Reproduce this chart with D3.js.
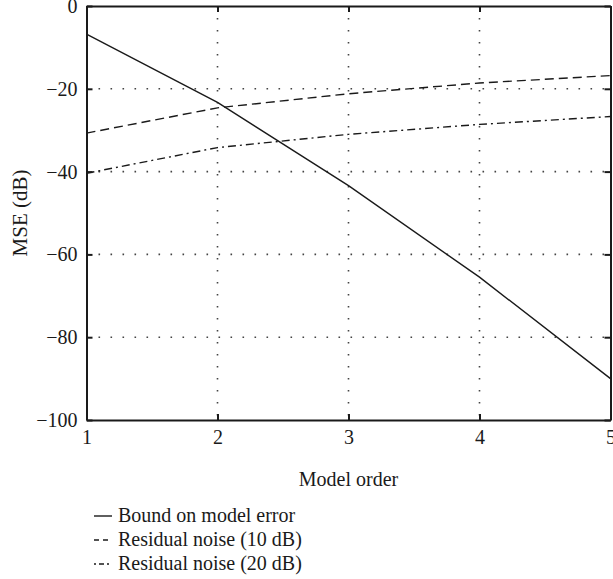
<!DOCTYPE html>
<html lang="en">
  <head>
    <meta charset="UTF-8" />
    <title>MSE vs model order</title>
    <script src="https://cdn.jsdelivr.net/npm/d3@7"></script>
    <style>
      body { margin: 0; background: #fff; }
      svg { display: block; font-family: "Liberation Serif", "DejaVu Serif", serif; }
      .axis path, .axis line { stroke: #1a1a1a; }
      .axis text { font-size: 20px; fill: #1a1a1a; font-family: "Liberation Serif", serif; }
    </style>
  </head>
  <body>
    <svg id="chart" width="613" height="579"></svg>
    <script>
      // data
      var orders = [1, 2, 3, 4, 5];
      var boundModelError = [-6.8, -23.3, -43.4, -65.5, -90.0];
      var residual10 = [-30.7, -24.6, -21.2, -18.6, -16.8];
      var residual20 = [-40.4, -34.2, -31.0, -28.6, -26.7];
      var xTicks = [1, 2, 3, 4, 5];
      var yTicks = [0, -20, -40, -60, -80, -100];
      var legendLabels = ["Bound on model error", "Residual noise (10 dB)", "Residual noise (20 dB)"];

      var margin = {top: 6, left: 86.5},
          width = 524,
          height = 414;

      var svg = d3.select("#chart");
      var g = svg.append("g")
        .attr("transform", "translate(" + margin.left + "," + margin.top + ")");

      var xScale = d3.scaleLinear().domain([1, 5]).range([0, width]);
      var yScale = d3.scaleLinear().domain([-100, 0]).range([height, 0]);

      // dotted grid
      g.selectAll(".vgrid")
        .data(xTicks.slice(1, -1))
        .enter()
        .append("line")
        .attr("x1", function(d) { return xScale(d); })
        .attr("x2", function(d) { return xScale(d); })
        .attr("y1", 0)
        .attr("y2", height)
        .attr("stroke", "#444")
        .attr("stroke-width", 1.6)
        .attr("stroke-dasharray", "1.6,10.4");

      g.selectAll(".hgrid")
        .data(yTicks.slice(1, -1))
        .enter()
        .append("line")
        .attr("x1", 0)
        .attr("x2", width)
        .attr("y1", function(d) { return yScale(d); })
        .attr("y2", function(d) { return yScale(d); })
        .attr("stroke", "#444")
        .attr("stroke-width", 1.6)
        .attr("stroke-dasharray", "1.6,10.4");

      // series
      var series = [
        {values: boundModelError, dash: null},
        {values: residual10, dash: "9,5"},
        {values: residual20, dash: "8,4,2,4"}
      ];

      var line = d3.line()
        .x(function(d, i) { return xScale(orders[i]); })
        .y(function(d) { return yScale(d); });

      g.selectAll(".series")
        .data(series)
        .enter()
        .append("path")
        .attr("d", function(s) { return line(s.values); })
        .attr("fill", "none")
        .attr("stroke", "#1a1a1a")
        .attr("stroke-width", 1.4)
        .attr("stroke-dasharray", function(s) { return s.dash; });

      // axes with inward ticks, boxed
      var xAxis = d3.axisBottom(xScale).tickValues(xTicks).tickSizeInner(-6).tickSizeOuter(0).tickPadding(10)
        .tickFormat(d3.format("d"));
      var yAxis = d3.axisLeft(yScale).tickValues(yTicks).tickSizeInner(-6).tickSizeOuter(0).tickPadding(9)
        .tickFormat(function(d) { return d < 0 ? "\u2212" + Math.abs(d) : d; });

      g.append("g").attr("class", "axis")
        .attr("transform", "translate(0," + height + ")")
        .call(xAxis);
      g.append("g").attr("class", "axis")
        .call(yAxis);
      g.append("g").attr("class", "axis")
        .call(d3.axisTop(xScale).tickValues(xTicks).tickSizeInner(-6).tickSizeOuter(0).tickFormat(""));
      g.append("g").attr("class", "axis")
        .attr("transform", "translate(" + width + ",0)")
        .call(d3.axisRight(yScale).tickValues(yTicks).tickSizeInner(-6).tickSizeOuter(0).tickFormat(""));

      g.selectAll(".axis path").attr("stroke-width", 2);
      g.selectAll(".axis line").attr("stroke-width", 2);

      // axis titles
      svg.append("text")
        .attr("x", margin.left + width / 2)
        .attr("y", 486)
        .attr("text-anchor", "middle")
        .attr("font-size", 20)
        .attr("fill", "#1a1a1a")
        .text("Model order");

      svg.append("text")
        .attr("transform", "translate(27,213) rotate(-90)")
        .attr("text-anchor", "middle")
        .attr("font-size", 21)
        .attr("fill", "#1a1a1a")
        .text("MSE (dB)");

      // legend
      var legend = svg.selectAll(".legend")
        .data(legendLabels)
        .enter()
        .append("g")
        .attr("transform", function(d, i) { return "translate(0," + (522 + i * 24) + ")"; });

      legend.append("line")
        .attr("x1", 94)
        .attr("x2", 112)
        .attr("y1", -6)
        .attr("y2", -6)
        .attr("stroke", "#1a1a1a")
        .attr("stroke-width", 1.4)
        .attr("stroke-dasharray", function(d, i) { return [null, "5,4", "2,3,5,3"][i]; });

      legend.append("text")
        .attr("x", 118)
        .attr("font-size", 20)
        .attr("fill", "#1a1a1a")
        .text(function(d) { return d; });
    </script>
  </body>
</html>
